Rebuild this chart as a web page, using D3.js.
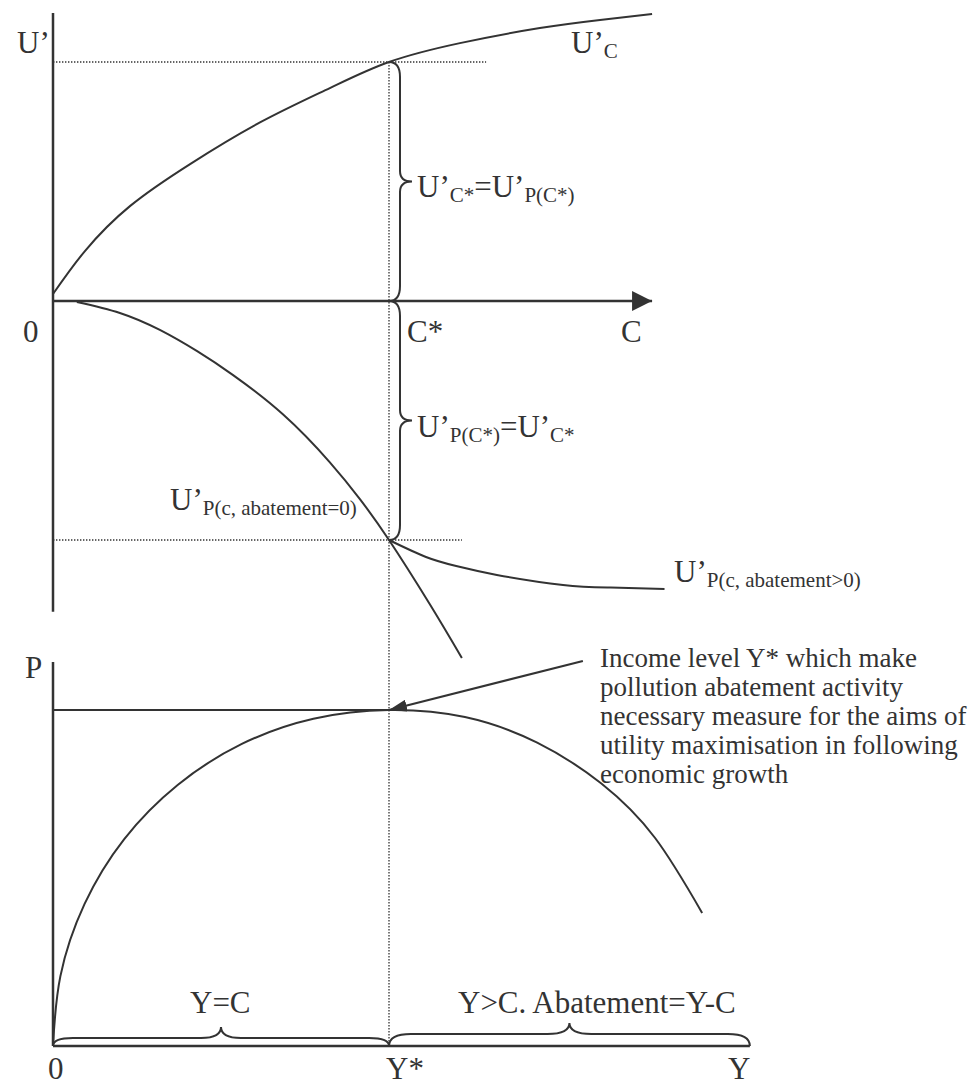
<!DOCTYPE html>
<html>
<head>
<meta charset="utf-8">
<script src="https://cdn.jsdelivr.net/npm/d3@7"></script>
<style>
  html, body { margin: 0; padding: 0; background: #fff; }
  svg { display: block; }
  text { font-family: "Liberation Serif", "Times New Roman", serif; fill: #333; }
</style>
</head>
<body>
<script>
// ---------- DATA ----------
// Top panel: C on x (C* = 10), U' on y (U'C* = 10)
const ucX = [0, 0.95, 2.29, 4.08, 6.16, 8.24, 10, 12.11, 14.49, 16.28, 17.83];
const ucY = [0.29, 2.09, 3.97, 5.73, 7.47, 8.91, 10, 10.79, 11.42, 11.76, 12.01];

const upZeroX = [0.71, 1.99, 3.18, 4.29, 5.36, 6.85, 8.24, 9.14, 10, 11.22, 12.17];
const upZeroY = [-0.04, -0.5, -1.21, -2.1, -3.1, -4.75, -6.75, -8.3, -10, -12.7, -14.94];

const upPosX = [10, 11.1, 12.0, 13.21, 15.18, 16.6, 18.2];
const upPosY = [-10, -10.71, -11.09, -11.46, -11.88, -11.99, -12.05];

// Bottom panel: Y on x (Y* = 10), P on y (Pmax = 10)
const pX = [0, 0.22, 0.94, 2.12, 3.71, 5.62, 7.75, 10, 12.26, 14.41, 16.32, 17.92, 19.32];
const pY = [0, 2.08, 4.23, 6.16, 7.77, 8.99, 9.74, 10, 9.79, 9.03, 7.81, 6.19, 3.96];

const cStar = 10, uStar = 10, yStar = 10, pMax = 10;
const topAxisX = [0, 17.83], topAxisY = [-13.0, 12.05];
const botAxisX = [0, 20.74], botAxisY = [0, 11.43];
const dotTopEnd = 12.89, dotBotEnd = 12.17;
const arrowFrom = [15.77, 11.46];

const annLines = [
  "Income level Y* which make",
  "pollution abatement activity",
  "necessary measure for the aims of",
  "utility maximisation in following",
  "economic growth"
];

// ---------- SETUP ----------
const W = 970, H = 1086;
const svg = d3.select("body").append("svg").attr("width", W).attr("height", H);
const ink = "#333";

const xTop = d3.scaleLinear().domain([0, 10]).range([53, 389]);
const yTop = d3.scaleLinear().domain([0, 10]).range([301, 62]);
const xBot = d3.scaleLinear().domain([0, 10]).range([53, 389]);
const yBot = d3.scaleLinear().domain([0, 10]).range([1046, 710]);

const defs = svg.append("defs");
defs.append("marker").attr("id", "axArrow")
  .attr("viewBox", "0 0 20 20").attr("refX", 20).attr("refY", 10)
  .attr("markerWidth", 20).attr("markerHeight", 20)
  .attr("markerUnits", "userSpaceOnUse").attr("orient", "auto")
  .append("path").attr("d", "M0,0 L20,10 L0,20 Z").attr("fill", ink);
defs.append("marker").attr("id", "annArrow")
  .attr("viewBox", "0 0 18 12").attr("refX", 18).attr("refY", 6)
  .attr("markerWidth", 18).attr("markerHeight", 12)
  .attr("markerUnits", "userSpaceOnUse").attr("orient", "auto")
  .append("path").attr("d", "M0,0 L18,6 L0,12 Z").attr("fill", ink);

function seg(x1, y1, x2, y2) {
  return svg.append("line").attr("x1", x1).attr("y1", y1).attr("x2", x2).attr("y2", y2)
    .attr("stroke", ink);
}
function dotted(x1, y1, x2, y2) {
  return seg(x1, y1, x2, y2).attr("stroke-width", 1.3).attr("stroke-dasharray", "1.4,1.6");
}
function curve(xs, ys, sx, sy) {
  const pts = xs.map((v, i) => [v, ys[i]]);
  const line = d3.line().x(d => sx(d[0])).y(d => sy(d[1])).curve(d3.curveNatural);
  svg.append("path").attr("d", line(pts)).attr("fill", "none")
    .attr("stroke", ink).attr("stroke-width", 2);
}
// vertical brace opening right
function vBrace(x0, y0, y1, a, w, r) {
  const ym = (y0 + y1) / 2;
  const p = d3.path();
  p.moveTo(x0, y0);
  p.quadraticCurveTo(x0 + a, y0, x0 + a, y0 + r);
  p.lineTo(x0 + a, ym - r * 0.7);
  p.quadraticCurveTo(x0 + a, ym, x0 + w, ym);
  p.quadraticCurveTo(x0 + a, ym, x0 + a, ym + r * 0.7);
  p.lineTo(x0 + a, y1 - r);
  p.quadraticCurveTo(x0 + a, y1, x0, y1);
  svg.append("path").attr("d", p.toString()).attr("fill", "none")
    .attr("stroke", ink).attr("stroke-width", 2);
}
// horizontal brace opening up
function hBrace(x0, x1, y0, a, w, r, xm) {
  const p = d3.path();
  p.moveTo(x0, y0);
  p.quadraticCurveTo(x0, y0 - a, x0 + r, y0 - a);
  p.lineTo(xm - r, y0 - a);
  p.quadraticCurveTo(xm, y0 - a, xm, y0 - w);
  p.quadraticCurveTo(xm, y0 - a, xm + r, y0 - a);
  p.lineTo(x1 - r, y0 - a);
  p.quadraticCurveTo(x1, y0 - a, x1, y0);
  svg.append("path").attr("d", p.toString()).attr("fill", "none")
    .attr("stroke", ink).attr("stroke-width", 2);
}
function rich(x, y, parts, main = 31, sub = 21, subDy = 5) {
  const t = svg.append("text").attr("x", x).attr("y", y);
  let cur = 0;
  parts.forEach(([s, isSub]) => {
    const off = isSub ? subDy : 0;
    t.append("tspan").attr("dy", off - cur).attr("font-size", isSub ? sub : main).text(s);
    cur = off;
  });
  return t;
}

// ---------- TOP PANEL ----------
dotted(xTop(0), yTop(uStar), xTop(dotTopEnd), yTop(uStar));
dotted(xTop(0), yTop(-uStar), xTop(dotBotEnd), yTop(-uStar));
dotted(xTop(cStar), yTop(uStar), xBot(yStar), yBot(0));

seg(xTop(0), yTop(topAxisY[0]), xTop(0), yTop(topAxisY[1])).attr("stroke-width", 2.5);
seg(xTop(0), yTop(0), xTop(topAxisX[1]), yTop(0)).attr("stroke-width", 2.5)
  .attr("marker-end", "url(#axArrow)");

curve(ucX, ucY, xTop, yTop);
curve(upZeroX, upZeroY, xTop, yTop);
curve(upPosX, upPosY, xTop, yTop);

vBrace(xTop(cStar), yTop(uStar), yTop(0), 11, 23, 15);
vBrace(xTop(cStar), yTop(0), yTop(-uStar), 11, 23, 15);

rich(17, 53, [["U\u2019", 0]]);
rich(571, 53, [["U\u2019", 0], ["C", 1]]);
rich(417, 197, [["U\u2019", 0], ["C*", 1], ["=U\u2019", 0], ["P(C*)", 1]]);
svg.append("text").attr("x", 23).attr("y", 342).attr("font-size", 31).text("0");
svg.append("text").attr("x", 407).attr("y", 342).attr("font-size", 31).text("C*");
svg.append("text").attr("x", 621).attr("y", 342).attr("font-size", 31).text("C");
rich(417, 437, [["U\u2019", 0], ["P(C*)", 1], ["=U\u2019", 0], ["C*", 1]]);
rich(170, 510, [["U\u2019", 0], ["P(c, abatement=0)", 1]]);
rich(674, 582, [["U\u2019", 0], ["P(c, abatement>0)", 1]]);

// ---------- BOTTOM PANEL ----------
seg(xBot(0), yBot(botAxisY[1]), xBot(0), yBot(0)).attr("stroke-width", 2.5);
seg(xBot(0), yBot(0), xBot(botAxisX[1]), yBot(0)).attr("stroke-width", 2.5);
seg(xBot(0), yBot(pMax), xBot(yStar), yBot(pMax)).attr("stroke-width", 2);

curve(pX, pY, xBot, yBot);

seg(xBot(arrowFrom[0]), yBot(arrowFrom[1]), xBot(yStar), yBot(pMax))
  .attr("stroke-width", 2).attr("marker-end", "url(#annArrow)");

hBrace(xBot(0), xBot(yStar), yBot(0), 8, 19, 20, (xBot(0) + xBot(yStar)) / 2);
hBrace(xBot(yStar), xBot(botAxisX[1]), yBot(0), 12, 23, 22, (xBot(yStar) + xBot(botAxisX[1])) / 2);

svg.append("text").attr("x", 25).attr("y", 678).attr("font-size", 31).text("P");
svg.append("text").attr("x", 48).attr("y", 1079).attr("font-size", 31).text("0");
svg.append("text").attr("x", 386).attr("y", 1079).attr("font-size", 31).text("Y*");
svg.append("text").attr("x", 728).attr("y", 1079).attr("font-size", 31).text("Y");
svg.append("text").attr("x", 190).attr("y", 1013).attr("font-size", 31).text("Y=C");
svg.append("text").attr("x", 458).attr("y", 1013).attr("font-size", 31).text("Y>C. Abatement=Y-C");

const ann = svg.append("text").attr("x", 600).attr("y", 667).attr("font-size", 27);
annLines.forEach((s, i) => {
  ann.append("tspan").attr("x", 600).attr("dy", i === 0 ? 0 : 29).text(s);
});
</script>
</body>
</html>
